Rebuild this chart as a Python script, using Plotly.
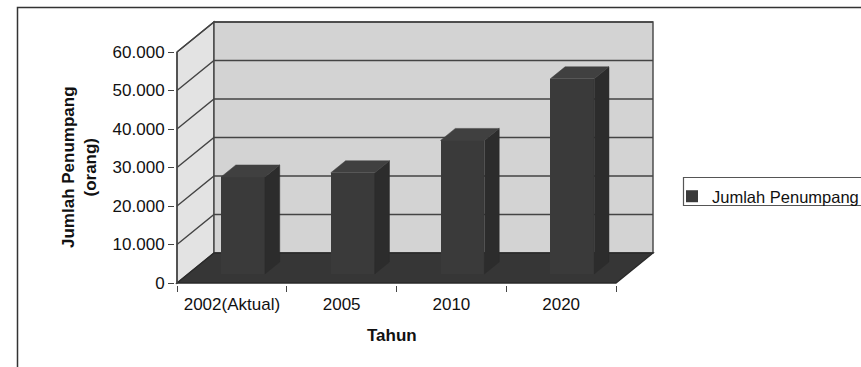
import plotly.graph_objects as go

# ---- data ----
categories = ["2002(Aktual)", "2005", "2010", "2020"]
penumpang = [25200, 26300, 34700, 50700]
y_tick_values = [0, 10000, 20000, 30000, 40000, 50000, 60000]
series_name = "Jumlah Penumpang"

# ---- canvas / projection constants (pixels) ----
FIG_W, FIG_H = 861, 367
PLOT_L, PLOT_R, PLOT_T, PLOT_B = 175, 660, 18, 285
X_FRONT_PX = 177            # front-left edge of the floor (x = -0.5)
Y_ZERO_PX = 283             # front value 0
PX_PER_CAT = 109.75
PX_PER_VAL = 231 / 60000
DEPTH_PX = (37, 30)         # offset from front plane to back wall

DX = DEPTH_PX[0] / PX_PER_CAT
DY = DEPTH_PX[1] / PX_PER_VAL
VMAX = y_tick_values[-1]
BAR_W = 0.4
D_FRONT, D_BACK = 0.3, 0.7  # depth band occupied by the columns

x_range = [-0.5 - (X_FRONT_PX - PLOT_L) / PX_PER_CAT,
           -0.5 + (PLOT_R - X_FRONT_PX) / PX_PER_CAT]
y_range = [-(PLOT_B - Y_ZERO_PX) / PX_PER_VAL,
           (Y_ZERO_PX - PLOT_T) / PX_PER_VAL]


def paper_x(px):
    return (px - PLOT_L) / (PLOT_R - PLOT_L)


def paper_y(py):
    return (PLOT_B - py) / (PLOT_B - PLOT_T)


FONT = "Liberation Sans, Arial, sans-serif"
TEXT_C = "#111111"
BAR_FRONT = "#3a3a3a"
BAR_TOP = "#404040"
BAR_SIDE = "#2c2c2c"
FLOOR_C = "#363636"
BACK_WALL = "#d3d3d3"
SIDE_WALL = "#e3e3e3"
GRID_C = "#444444"

xl, xr = -0.5, len(categories) - 0.5


def poly(points):
    return "M " + " L ".join(f"{x},{y}" for x, y in points) + " Z"


shapes = []
# side wall
shapes.append(dict(type="path", xref="x", yref="y", layer="below",
                   path=poly([(xl, 0), (xl + DX, DY), (xl + DX, VMAX + DY), (xl, VMAX)]),
                   fillcolor=SIDE_WALL, line=dict(color=GRID_C, width=1.4)))
# back wall
shapes.append(dict(type="path", xref="x", yref="y", layer="below",
                   path=poly([(xl + DX, DY), (xr + DX, DY), (xr + DX, VMAX + DY), (xl + DX, VMAX + DY)]),
                   fillcolor=BACK_WALL, line=dict(color=GRID_C, width=1.4)))
# gridlines on both walls
for v in y_tick_values[1:]:
    shapes.append(dict(type="path", xref="x", yref="y", layer="below",
                       path=f"M {xl},{v} L {xl + DX},{v + DY} L {xr + DX},{v + DY}",
                       line=dict(color=GRID_C, width=1.4)))
# floor
shapes.append(dict(type="path", xref="x", yref="y", layer="below",
                   path=poly([(xl, 0), (xr, 0), (xr + DX, DY), (xl + DX, DY)]),
                   fillcolor=FLOOR_C, line=dict(color="#2a2a2a", width=1.3)))
# front value axis line
shapes.append(dict(type="line", xref="x", yref="y", x0=xl, x1=xl, y0=0, y1=VMAX,
                   line=dict(color=GRID_C, width=1.4)))
# outer chart border
shapes.append(dict(type="rect", xref="paper", yref="paper",
                   x0=paper_x(17.5), x1=paper_x(866), y0=paper_y(372), y1=paper_y(7.5),
                   line=dict(color="#333333", width=1.5), fillcolor="rgba(0,0,0,0)"))
# legend frame
shapes.append(dict(type="rect", xref="paper", yref="paper",
                   x0=paper_x(683.5), x1=paper_x(866), y0=paper_y(205.5), y1=paper_y(177.5),
                   line=dict(color="#555555", width=1.2), fillcolor="rgba(0,0,0,0)"))

fig = go.Figure()

# column front faces
fig.add_trace(go.Bar(
    x=[i + D_FRONT * DX for i in range(len(categories))],
    y=penumpang,
    base=D_FRONT * DY,
    width=BAR_W,
    name=series_name,
    marker=dict(color=BAR_FRONT, line=dict(width=0)),
    hoverinfo="skip",
))

# column tops and right-hand sides
for i, v in enumerate(penumpang):
    x0 = i - BAR_W / 2
    x1 = i + BAR_W / 2
    top = [(x0 + D_FRONT * DX, v + D_FRONT * DY), (x1 + D_FRONT * DX, v + D_FRONT * DY),
           (x1 + D_BACK * DX, v + D_BACK * DY), (x0 + D_BACK * DX, v + D_BACK * DY),
           (x0 + D_FRONT * DX, v + D_FRONT * DY)]
    side = [(x1 + D_FRONT * DX, D_FRONT * DY), (x1 + D_BACK * DX, D_BACK * DY),
            (x1 + D_BACK * DX, v + D_BACK * DY), (x1 + D_FRONT * DX, v + D_FRONT * DY),
            (x1 + D_FRONT * DX, D_FRONT * DY)]
    for pts, col in ((side, BAR_SIDE), (top, BAR_TOP)):
        fig.add_trace(go.Scatter(
            x=[p[0] for p in pts], y=[p[1] for p in pts],
            mode="lines", fill="toself", fillcolor=col,
            line=dict(color=col, width=0.5),
            showlegend=False, hoverinfo="skip",
        ))

fig.update_layout(
    width=FIG_W, height=FIG_H,
    margin=dict(l=PLOT_L, r=FIG_W - PLOT_R, t=PLOT_T, b=FIG_H - PLOT_B, autoexpand=False),
    paper_bgcolor="white", plot_bgcolor="rgba(0,0,0,0)",
    separators=",.",
    font=dict(family=FONT, size=17, color=TEXT_C),
    showlegend=True,
    legend=dict(x=paper_x(672), y=paper_y(179), xanchor="left", yanchor="top",
                bgcolor="rgba(0,0,0,0)", borderwidth=0,
                font=dict(family=FONT, size=16.5, color=TEXT_C)),
    shapes=shapes,
    bargap=0,
    annotations=[
        dict(text="<b>Jumlah Penumpang<br>(orang)</b>", textangle=-90,
             xref="paper", yref="paper", x=paper_x(79), y=paper_y(167),
             xanchor="center", yanchor="middle", showarrow=False,
             font=dict(family=FONT, size=17, color=TEXT_C)),
        dict(text="<b>Tahun</b>",
             xref="paper", yref="paper", x=paper_x(392), y=paper_y(335),
             xanchor="center", yanchor="middle", showarrow=False,
             font=dict(family=FONT, size=17, color=TEXT_C)),
    ],
)

fig.update_xaxes(
    range=x_range, showgrid=False, zeroline=False, showline=False,
    tickmode="array", tickvals=list(range(len(categories))), ticktext=categories,
    ticks="outside", ticklen=4, tickcolor="rgba(0,0,0,0)",
    minor=dict(tickmode="array", tickvals=[k - 0.5 for k in range(len(categories) + 1)],
               ticks="outside", ticklen=6, tickcolor=GRID_C, tickwidth=1.3),
    fixedrange=True,
)
fig.update_yaxes(
    range=y_range, showgrid=False, zeroline=False, showline=False,
    tickmode="array", tickvals=y_tick_values, tickformat=",d",
    ticks="outside", ticklen=6, tickcolor=GRID_C, tickwidth=1.3,
    fixedrange=True,
)

fig.write_html("out.html")
